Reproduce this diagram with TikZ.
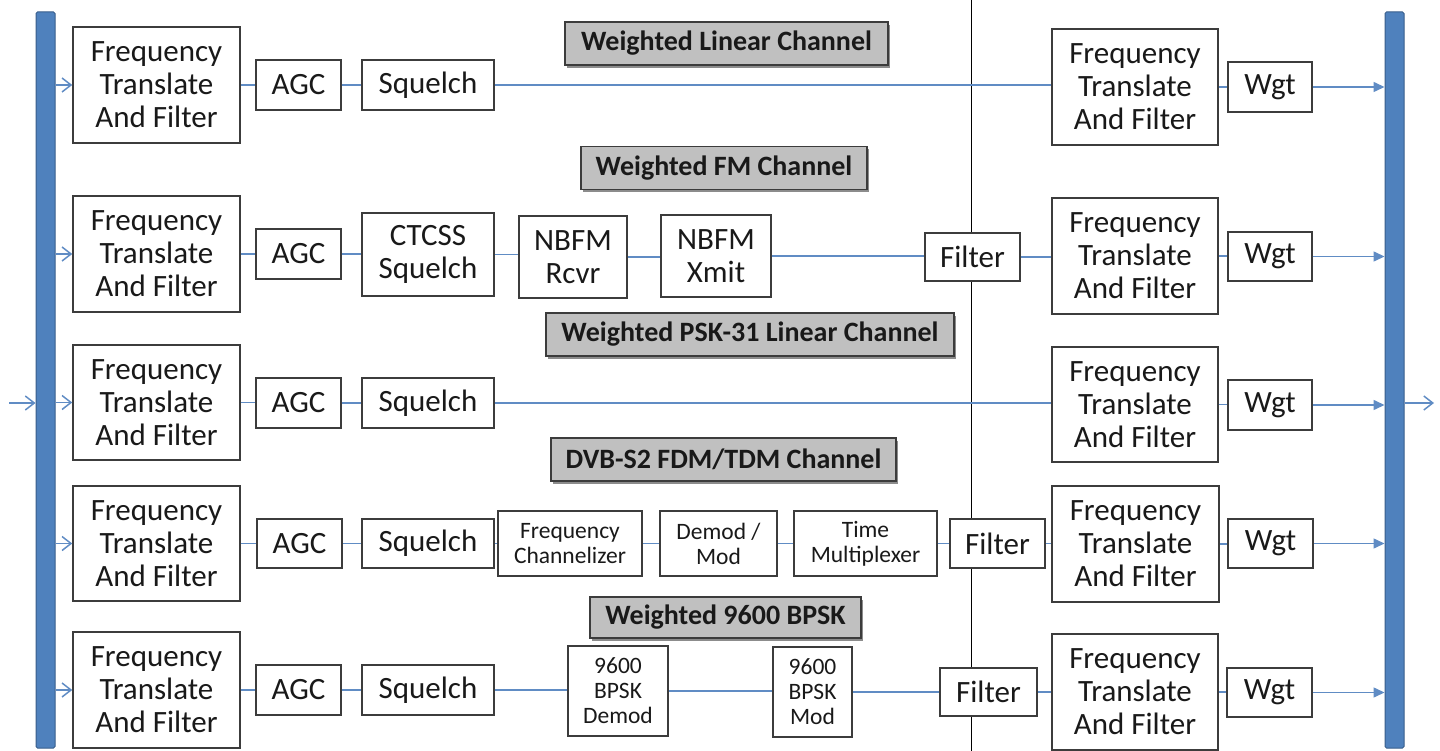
\documentclass[tikz,border=0pt]{standalone}
\usepackage{fontspec}
\setmainfont{Carlito}
\usetikzlibrary{arrows.meta,shadows}

\definecolor{barfill}{RGB}{79,129,189}
\definecolor{barline}{RGB}{56,93,138}
\definecolor{wire}{RGB}{96,140,196}
\definecolor{boxline}{RGB}{60,60,60}
\definecolor{titlefill}{RGB}{192,192,192}
\definecolor{ink}{RGB}{25,25,25}

\newcommand{\bigtxt}{\fontsize{31}{33}\selectfont}
\newcommand{\smalltxt}{\fontsize{23.5}{25}\selectfont}
\newcommand{\titletxt}{\fontsize{28}{30}\selectfont\bfseries}

% block given by its corners: [style]{name}{x1}{y1}{x2}{y2}{text}
\newcommand{\blk}[7][]{%
  \node[box,#1,minimum width={(#5-#3)*1pt},minimum height={(#6-#4)*1pt}]
    (#2) at ({(#3+#5)/2},{(#4+#6)/2}) {#7};}

\begin{document}
\begin{tikzpicture}[x=1pt,y=-1pt,
  box/.style={draw=boxline,fill=white,line width=1.5pt,inner sep=0pt,
    align=center,text=ink,font=\bigtxt},
  small/.style={font=\smalltxt},
  title/.style={draw=boxline,fill=titlefill,line width=1.5pt,inner sep=0pt,
    text=ink,font=\titletxt,
    drop shadow={shadow xshift=2pt,shadow yshift=-3pt,opacity=0.45,fill=black}},
  bus/.style={draw=barline,fill=barfill,line width=1pt,rounded corners=1.5pt,
    inner sep=0pt,minimum width=19pt,minimum height=736pt},
  wireline/.style={draw=wire,line width=1.5pt},
  inarrow/.style={wireline,-{Straight Barb[length=9pt,width=14pt,line width=1.5pt]}},
  outarrow/.style={wireline,-{Triangle[length=11pt,width=10pt]}},
  divider/.style={draw=black,line width=1pt}]

\useasboundingbox (0,0) rectangle (1440,751);

% divider between receive and transmit halves
\coordinate (dtop) at (971,0);
\coordinate (dbot) at (971,751);
\draw[divider] (dtop) -- (dbot);

% buses
\node[bus] (lbus) at (45.5,380) {};
\node[bus] (rbus) at (1394.5,380) {};

% channel titles
\node[title,minimum width=323pt,minimum height=43pt] (t1) at (726.5,43.5) {Weighted Linear Channel};
\node[title,minimum width=286pt,minimum height=43pt] (t2) at (724,168) {Weighted FM Channel};
\node[title,minimum width=408pt,minimum height=43pt] (t3) at (750,334.5) {Weighted PSK-31 Linear Channel};
\node[title,minimum width=345pt,minimum height=43pt] (t4) at (723.5,459.5) {DVB-S2 FDM/TDM Channel};
\node[title,minimum width=271pt,minimum height=41pt] (t5) at (725.5,617.5) {Weighted 9600 BPSK};

% row 1: weighted linear channel
\blk{f1}{73}{27}{240}{143}{Frequency\\Translate\\And Filter}
\blk{a1}{256}{60}{341}{110}{AGC}
\blk{s1}{362}{60}{494}{110}{Squelch}
\blk{r1}{1052}{29}{1218}{145}{Frequency\\Translate\\And Filter}
\blk{w1}{1228}{62}{1312}{112}{Wgt}

% row 2: weighted FM channel
\blk{f2}{73}{196}{240}{312}{Frequency\\Translate\\And Filter}
\blk{a2}{256}{229}{341}{279}{AGC}
\blk{c2}{362}{213}{494}{296}{CTCSS\\Squelch}
\blk{n2}{519}{216}{627}{298}{NBFM\\Rcvr}
\blk{x2}{661}{215}{771}{297}{NBFM\\Xmit}
\blk{l2}{925}{233}{1020}{281}{Filter}
\blk{r2}{1052}{198}{1218}{314}{Frequency\\Translate\\And Filter}
\blk{w2}{1228}{232}{1312}{281}{Wgt}

% row 3: weighted PSK-31 linear channel
\blk{f3}{73}{345}{240}{460}{Frequency\\Translate\\And Filter}
\blk{a3}{256}{378}{341}{428}{AGC}
\blk{s3}{362}{378}{494}{428}{Squelch}
\blk{r3}{1052}{347}{1218}{462}{Frequency\\Translate\\And Filter}
\blk{w3}{1228}{380}{1312}{430}{Wgt}

% row 4: DVB-S2 FDM/TDM channel
\blk{f4}{73}{486}{240}{601}{Frequency\\Translate\\And Filter}
\blk{a4}{257}{519}{342}{568}{AGC}
\blk{s4}{362}{519}{494}{568}{Squelch}
\blk[small]{h4}{498}{511}{642}{576}{Frequency\\Channelizer}
\blk[small]{d4}{660}{511}{777}{576}{Demod /\\Mod}
\blk[small]{m4}{794}{511}{937}{576}{Time\\Multiplexer}
\blk{l4}{950}{519}{1045}{568}{Filter}
\blk{r4}{1052}{486}{1219}{602}{Frequency\\Translate\\And Filter}
\blk{w4}{1228}{519}{1313}{568}{Wgt}

% row 5: weighted 9600 BPSK
\blk{f5}{73}{632}{240}{748}{Frequency\\Translate\\And Filter}
\blk{a5}{256}{665}{341}{715}{AGC}
\blk{s5}{362}{665}{494}{715}{Squelch}
\blk[small]{b5}{568}{646}{668}{736}{9600\\BPSK\\Demod}
\blk[small]{o5}{773}{647}{852}{737}{9600\\BPSK\\Mod}
\blk{l5}{940}{668}{1037}{716}{Filter}
\blk{r5}{1052}{634}{1218}{750}{Frequency\\Translate\\And Filter}
\blk{w5}{1227}{668}{1312}{717}{Wgt}

% main input and output
\coordinate (src) at (9,403);
\coordinate (dst) at (1434,403);
\draw[inarrow] (src) -- (src -| lbus.west);
\draw[inarrow] (rbus.east |- dst) -- (dst);

% bus taps into each channel
\foreach \f in {f1,f2,f3,f4,f5}
  \draw[inarrow] (lbus.east |- \f.west) -- (\f.west);

% signal chains
\foreach \a/\b in {f1/a1,a1/s1,f2/a2,a2/c2,c2/n2,n2/x2,x2/l2,
                   f3/a3,a3/s3,f4/a4,a4/s4,s4/h4,h4/d4,d4/m4,m4/l4,
                   f5/a5,a5/s5,s5/b5,b5/o5,o5/l5}
  \draw[wireline] (\a.east) -- (\a.east -| \b.west);
\foreach \a/\b in {s1/r1,l2/r2,s3/r3,l4/r4,l5/r5,
                   r1/w1,r2/w2,r3/w3,r4/w4,r5/w5}
  \draw[wireline] (\a.east) -- (\a.east -| \b.west);

% weighted outputs onto the summing bus
\foreach \w in {w1,w2,w3,w4,w5}
  \draw[outarrow] (\w.east) -- (\w.east -| rbus.west);

\end{tikzpicture}
\end{document}
